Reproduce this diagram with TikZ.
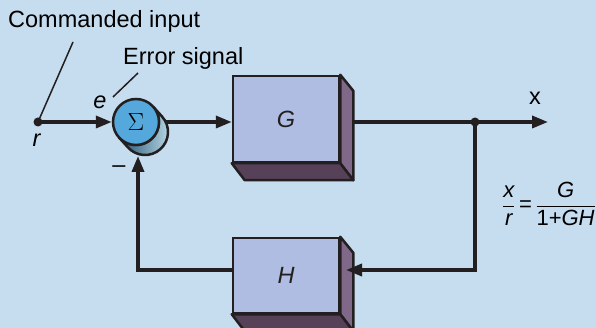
\documentclass[tikz,border=0pt]{standalone}
\usepackage{amsmath}
\usepackage{fontspec}
\setmainfont{Liberation Sans}
\usetikzlibrary{calc,arrows.meta}

\definecolor{bgblue}{HTML}{C6DCEF}
\definecolor{linecol}{HTML}{231F20}
\definecolor{boxfront}{HTML}{AEBDE1}
\definecolor{boxside}{HTML}{806888}
\definecolor{boxbottom}{HTML}{574159}
\definecolor{sumblue}{HTML}{55A8DC}
\definecolor{cyldark}{HTML}{23506F}
\definecolor{cyllight}{HTML}{BADBE9}

\begin{document}
\begin{tikzpicture}[auto, x=1pt, y=1pt, font=\fontsize{23.5}{28}\selectfont]
    % Styles for boxes and lines
    \tikzset{
      block/.style={rectangle, draw=linecol, line width=2.5pt, fill=boxfront, text=linecol, minimum width=106pt, inner sep=0pt},
      sideface/.style={fill=boxside, draw=linecol, line width=2.5pt, line join=round},
      bottomface/.style={fill=boxbottom, draw=linecol, line width=2.5pt, line join=round},
      sig/.style={draw=linecol, line width=3.5pt},
      arrow/.style={sig, -{Triangle[length=16pt,width=12pt]}},
      dot/.style={circle, fill=linecol, inner sep=0pt, minimum size=9pt},
      pointer/.style={draw=linecol, line width=1.5pt},
      cylbody/.style={draw=linecol, line width=2.5pt, left color=cyldark, right color=cyllight},
      sumnode/.style={circle, draw=linecol, line width=2.5pt, fill=sumblue, minimum size=46pt, inner sep=0pt}
    }

    % Background
    \fill[bgblue] (0,0) rectangle (596,-328);
    \useasboundingbox (0,0) rectangle (596,-328);

    % Blocks with explicit coordinates
    \node[block, minimum height=86pt] (G) at (286,-119) {\textit{G}};
    \node[block, minimum height=75pt] (H) at (286,-275.5) {\textit{H}};
    \foreach \blk in {G,H} {
      \draw[sideface] (\blk.north east) -- ++(13,-16) -- ($(\blk.south east)+(13,-17)$) -- (\blk.south east) -- cycle;
      \draw[bottomface] (\blk.south west) -- (\blk.south east) -- ++(13,-17) -- ($(\blk.south west)+(13,-17)$) -- cycle;
    }

    % Summing junction
    \coordinate (sumc) at (136,-122);
    \coordinate (sumb) at (145,-132);
    \draw[arrow] (sumc) -- (sumc -| G.west);
    \draw[cylbody] ($(sumc)+(42:23)$) -- ($(sumb)+(42:23)$) arc[start angle=42, end angle=-138, radius=23]
      -- ($(sumc)+(-138:23)$) arc[start angle=-138, end angle=42, radius=23] -- cycle;
    \node[sumnode] (sum) at (sumc) {$\Sigma$};

    % Points and labels
    \node[dot] (r) at (38,-122) {};
    \node[dot] (junc) at (475,-122) {};
    \node (rlabel) at (37,-140) {\textit{r}};
    \node[anchor=base west, inner sep=0pt] (cmdtext) at (8,-28) {Commanded input};
    \node[anchor=base west, inner sep=0pt] (errtext) at (123,-65) {Error signal};
    \node (elabel) at (100,-102) {\textit{e}};
    \node (minus) at (119,-169) {--};
    \node (xlabel) at (535,-98) {x};
    \node[anchor=east, inner sep=0pt, font=\fontsize{22}{26}\selectfont] (ratio) at (596,-204)
      {$\dfrac{\textit{x}}{\textit{r}}\,\text{=}\,\dfrac{\textit{G}}{\text{1+}\textit{GH}}$};

    \coordinate (cmdtip) at (73,-42);
    \coordinate (errtip) at (138,-73);
    \coordinate (etip) at (113,-97);
    \coordinate (out) at (548,-122);
    \coordinate (hin) at (346,-270);
    \coordinate (sumin) at (138,-156);

    % Pointer lines
    \draw[pointer] (cmdtip) -- (r.center);
    \draw[pointer] (errtip) -- (etip);

    % Arrows
    \draw[arrow] (r.center) -- (sum.west);
    \draw[sig] ($(G.east |- junc)+(13,0)$) -- (junc.center);
    \draw[arrow] (junc.center) -- (out);
    \draw[arrow] (junc.center) |- (hin);
    \draw[arrow] (H.west |- hin) -| (sumin);

\end{tikzpicture}
\end{document}
